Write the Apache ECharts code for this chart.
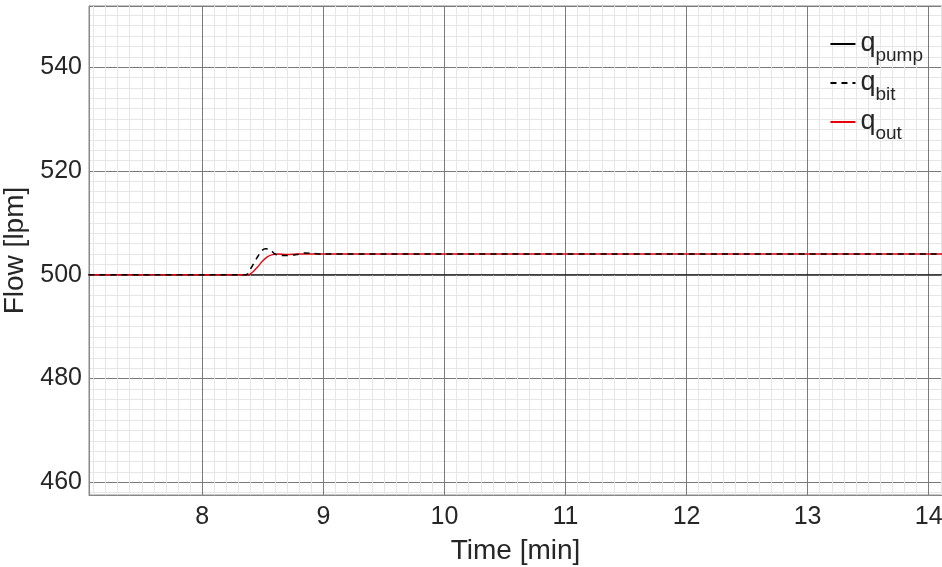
<!DOCTYPE html>
<html><head><meta charset="utf-8">
<script src="https://cdn.jsdelivr.net/npm/echarts@6/dist/echarts.min.js"></script>
<style>html,body{margin:0;padding:0;background:#fff}#c{width:942px;height:567px}</style>
</head><body><div id="c"></div>
<script>
const seriesNames = ['q_pump', 'q_bit', 'q_out'];
const pumpData = [[7.06, 500], [14.11, 500]];
const bitData = [[7.06, 500], [8.36, 500], [8.40, 501.2], [8.45, 503.2], [8.49, 504.6], [8.52, 505.0], [8.56, 504.8], [8.60, 504.0], [8.64, 503.7], [8.70, 503.7], [8.78, 503.9], [8.85, 504.2], [8.92, 504.1], [9.0, 504.0], [14.11, 504.0]];
const outData = [[7.06, 500], [8.38, 500], [8.42, 500.6], [8.46, 501.6], [8.50, 502.7], [8.54, 503.5], [8.58, 503.9], [8.62, 504.0], [8.70, 503.9], [8.80, 504.0], [14.11, 504.0]];
const xRange = [7.064, 14.11];
const yRange = [457.55, 551.8];

const font = 'Helvetica, Arial, "Liberation Sans", sans-serif';
const txt = '#262626';
const chart = echarts.init(document.getElementById('c'), null, {renderer: 'canvas'});
const subs = {q_pump: 'pump', q_bit: 'bit', q_out: 'out'};
chart.setOption({
  animation: false,
  grid: {left: 89, right: 0, top: 6, bottom: 72, show: true, borderColor: '#888', borderWidth: 1, containLabel: false, outerBoundsMode: 'none'},
  xAxis: {
    type: 'value', min: xRange[0], max: xRange[1],
    name: 'Time [min]', nameLocation: 'middle', nameGap: 42,
    nameTextStyle: {fontFamily: font, fontSize: 28, color: txt},
    axisLine: {show: true, lineStyle: {color: '#888'}},
    axisTick: {show: false},
    axisLabel: {fontFamily: font, fontSize: 25, color: txt, margin: 10,
      formatter: v => Math.abs(v - Math.round(v)) < 1e-6 ? String(Math.round(v)) : ''},
    splitLine: {show: true, lineStyle: {color: '#7a7a7a', width: 1}},
    minorTick: {show: false, splitNumber: 10},
    minorSplitLine: {show: true, lineStyle: {color: '#e6e6e6', width: 1}}
  },
  yAxis: {
    type: 'value', min: yRange[0], max: yRange[1],
    name: 'Flow [lpm]', nameLocation: 'middle', nameGap: 52, nameRotate: 90,
    nameTextStyle: {fontFamily: font, fontSize: 28, color: txt},
    axisLine: {show: true, lineStyle: {color: '#888'}},
    axisTick: {show: false},
    axisLabel: {fontFamily: font, fontSize: 25, color: txt, margin: 7,
      formatter: v => Math.abs(v / 20 - Math.round(v / 20)) < 1e-6 ? String(Math.round(v)) : ''},
    splitLine: {show: true, lineStyle: {color: '#7a7a7a', width: 1}},
    minorTick: {show: false, splitNumber: 10},
    minorSplitLine: {show: true, lineStyle: {color: '#e6e6e6', width: 1}}
  },
  legend: {
    show: true, orient: 'vertical', right: 14, top: 25, itemWidth: 25, itemHeight: 14, itemGap: 4,
    data: seriesNames,
    itemStyle: {color: 'rgba(0,0,0,0)', borderWidth: 0, opacity: 0},
    formatter: n => '{q|q}{s|' + subs[n] + '}',
    textStyle: {fontFamily: font, color: txt,
      rich: {q: {fontSize: 27, fontFamily: font, color: txt, verticalAlign: 'bottom', lineHeight: 26},
             s: {fontSize: 19, fontFamily: font, color: txt, verticalAlign: 'bottom', padding: [0, 0, -8, 0], lineHeight: 26}}}
  },
  series: [
    {name: 'q_pump', type: 'line', data: pumpData, showSymbol: false, symbol: 'none', lineStyle: {color: '#000', width: 1.2}, itemStyle: {color: '#000'}},
    {name: 'q_out', type: 'line', data: outData, showSymbol: false, symbol: 'none', smooth: 0.3, lineStyle: {color: '#e8000b', width: 1.3}, itemStyle: {color: '#e8000b'}},
    {name: 'q_bit', type: 'line', data: bitData, showSymbol: false, symbol: 'none', smooth: 0.3, lineStyle: {color: '#000', width: 1.5, type: [6, 5]}, itemStyle: {color: '#000'}}
  ]
});
</script></body></html>
